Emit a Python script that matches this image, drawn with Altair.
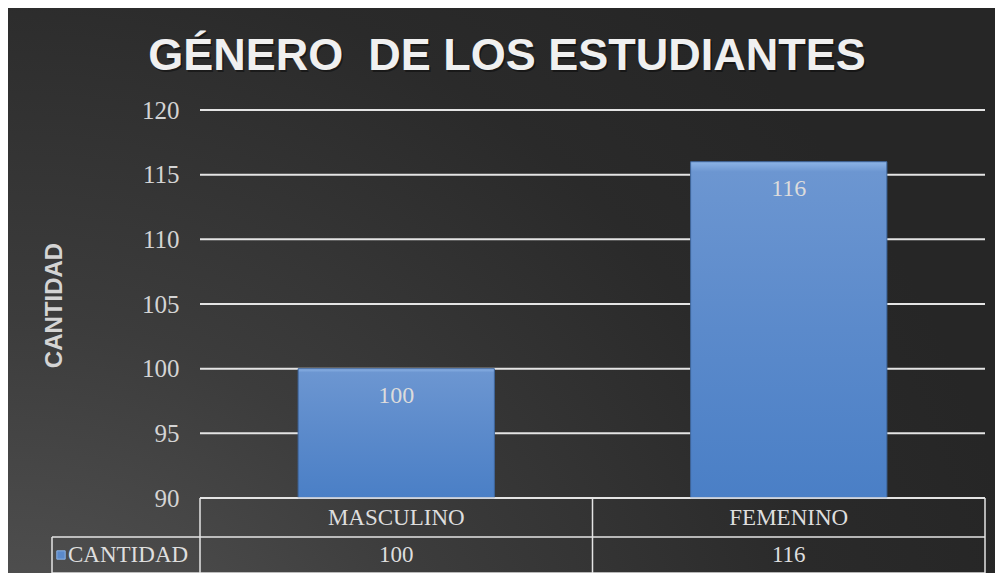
import altair as alt
import pandas as pd

# ---- data ----
categorias = ["MASCULINO", "FEMENINO"]
cantidad = [100, 116]
y_ticks = [90, 95, 100, 105, 110, 115, 120]
serie = "CANTIDAD"
titulo = "GÉNERO\u00a0 DE LOS ESTUDIANTES"

df = pd.DataFrame({"genero": categorias, "cantidad": cantidad})
df_ticks = pd.DataFrame({"t": y_ticks})
df_one = pd.DataFrame({"serie": [serie], "titulo": [titulo]})

W, H = 785, 388
PL, PT, PR, PB = 192, 102, 10, 75
Y_MIN, Y_MAX = y_ticks[0], y_ticks[-1]

SERIF = "Liberation Serif"
SANS = "Liberation Sans"
LINE = "#e4e4e4"

x_scale = alt.Scale(domain=categorias, paddingInner=0.5, paddingOuter=0.25)
y_scale = alt.Scale(domain=[Y_MIN, Y_MAX], zero=False, nice=False)
y_axis = alt.Axis(
    values=y_ticks, title="CANTIDAD", grid=False, domain=False, ticks=False,
    labelFont=SERIF, labelFontSize=25, labelColor="#d4d4d4", labelPadding=21,
    titleFont=SANS, titleFontSize=24, titleFontWeight="bold", titleColor="#d4d4d4",
    titleAngle=-90, titleX=-146, titleY=H / 2 + 1, titleAlign="center", titleBaseline="middle",
    zindex=1,
)

# background gradient
bg = alt.Chart(df_one).mark_rect(
    fill=alt.RadialGradient(
        gradient="radial", x1=0, y1=1, x2=0, y2=1, r1=0, r2=1.05,
        stops=[alt.GradientStop(color="#5c5c5c", offset=0),
               alt.GradientStop(color="#3c3c3c", offset=0.45),
               alt.GradientStop(color="#2a2a2a", offset=0.8),
               alt.GradientStop(color="#262626", offset=1)],
    )
).encode(x=alt.value(-PL), x2=alt.value(W + PR), y=alt.value(-PT), y2=alt.value(H + PB))

# title (with soft shadow)
title_shadow = alt.Chart(df_one).mark_text(
    font=SANS, fontSize=45, fontWeight="bold", color="#000000", opacity=0.4,
    align="center", baseline="alphabetic", dx=1.5, dy=2,
).encode(x=alt.value(307), y=alt.value(-40), text="titulo:N")
title_txt = alt.Chart(df_one).mark_text(
    font=SANS, fontSize=45, fontWeight="bold", color="#f0f0f0",
    align="center", baseline="alphabetic",
).encode(x=alt.value(307), y=alt.value(-40), text="titulo:N")

grid = alt.Chart(df_ticks).mark_rule(color=LINE, strokeWidth=2).encode(
    y=alt.Y("t:Q", scale=y_scale, axis=y_axis), x=alt.value(0), x2=alt.value(W)
)

bars = alt.Chart(df).mark_bar(
    fill=alt.Gradient(
        gradient="linear", x1=0, y1=0, x2=0, y2=1,
        stops=[alt.GradientStop(color="#8db4e6", offset=0),
               alt.GradientStop(color="#6c96d1", offset=0.03),
               alt.GradientStop(color="#5b8acb", offset=0.5),
               alt.GradientStop(color="#4a7fc6", offset=1)],
    ),
    stroke="#3f679e", strokeWidth=1,
).encode(
    x=alt.X("genero:N", scale=x_scale, axis=None, sort=categorias),
    y=alt.Y("cantidad:Q", scale=y_scale, axis=y_axis),
    y2=alt.datum(Y_MIN),
)

bar_labels = alt.Chart(df).mark_text(
    font=SERIF, fontSize=24, color="#dcdcdc", baseline="middle", dy=27
).encode(
    x=alt.X("genero:N", scale=x_scale, axis=None, sort=categorias),
    y=alt.Y("cantidad:Q", scale=y_scale, axis=y_axis),
    text=alt.Text("cantidad:Q"),
)

# data table lines
rule_style = dict(color=LINE, strokeWidth=1.5)
t_h1 = alt.Chart(df_one).mark_rule(**rule_style).encode(
    x=alt.value(0), x2=alt.value(W), y=alt.value(H))
t_h2 = alt.Chart(df_one).mark_rule(**rule_style).encode(
    x=alt.value(-148), x2=alt.value(W), y=alt.value(H + 39))
t_h3 = alt.Chart(df_one).mark_rule(**rule_style).encode(
    x=alt.value(-148), x2=alt.value(W), y=alt.value(H + 75))
t_v0 = alt.Chart(df_one).mark_rule(**rule_style).encode(
    x=alt.value(-148), y=alt.value(H + 39), y2=alt.value(H + 75))
t_v1 = alt.Chart(df_one).mark_rule(**rule_style).encode(
    x=alt.value(0), y=alt.value(H), y2=alt.value(H + 75))
t_v2 = alt.Chart(df_one).mark_rule(**rule_style).encode(
    x=alt.value(W / 2), y=alt.value(H), y2=alt.value(H + 75))
t_v3 = alt.Chart(df_one).mark_rule(**rule_style).encode(
    x=alt.value(W), y=alt.value(H), y2=alt.value(H + 75))

row_cat = alt.Chart(df).mark_text(
    font=SERIF, fontSize=23, color="#dedede", baseline="middle"
).encode(
    x=alt.X("genero:N", scale=x_scale, axis=None, sort=categorias),
    y=alt.value(H + 20), text="genero:N",
)
row_val = alt.Chart(df).mark_text(
    font=SERIF, fontSize=23, color="#dedede", baseline="middle"
).encode(
    x=alt.X("genero:N", scale=x_scale, axis=None, sort=categorias),
    y=alt.value(H + 57), text="cantidad:Q",
)
legend_sq = alt.Chart(df_one).mark_square(
    size=70, fill="#5b8acb", stroke="#8db4e6", strokeWidth=1, opacity=1
).encode(x=alt.value(-139), y=alt.value(H + 57))
legend_txt = alt.Chart(df_one).mark_text(
    font=SERIF, fontSize=23, color="#dedede", baseline="middle", align="left"
).encode(x=alt.value(-132), y=alt.value(H + 57), text="serie:N")

chart = alt.layer(
    bg, title_shadow, title_txt, grid, bars, bar_labels,
    t_h1, t_h2, t_h3, t_v0, t_v1, t_v2, t_v3,
    row_cat, row_val, legend_sq, legend_txt,
).properties(
    width=W, height=H,
    autosize=alt.AutoSizeParams(type="none"),
    padding={"left": PL, "top": PT, "right": PR, "bottom": PB},
    background="#2a2a2a",
).configure_view(stroke=None)

chart.save("out.html", embed_options={"renderer": "svg", "actions": False})
